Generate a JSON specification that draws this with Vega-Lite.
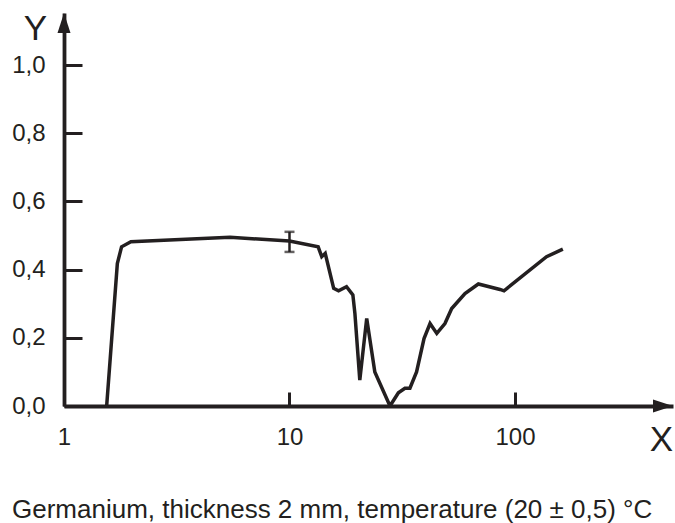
{
  "$schema": "https://vega.github.io/schema/vega-lite/v6.json",
  "width": 609,
  "height": 393,
  "autosize": {"type": "none"},
  "padding": {"left": 64, "top": 13, "right": 2, "bottom": 117},
  "background": "white",
  "config": {
    "view": {"stroke": null},
    "font": "Liberation Sans",
    "axis": {"grid": false, "domainColor": "#231f20", "tickColor": "#231f20", "labelColor": "#231f20", "titleColor": "#231f20", "labelFont": "Liberation Sans", "titleFont": "Liberation Sans", "titleFontWeight": "normal"}
  },
  "title": {
    "text": "Germanium, thickness 2 mm, temperature (20 ± 0,5) °C",
    "orient": "bottom",
    "anchor": "start",
    "frame": "group",
    "dx": -52,
    "offset": 40,
    "fontSize": 26,
    "fontWeight": "normal",
    "font": "Liberation Sans",
    "color": "#231f20"
  },
  "datasets": {
    "curve": [
      {"x": 1.546, "y": 0},
      {"x": 1.724, "y": 0.418},
      {"x": 1.80, "y": 0.467},
      {"x": 1.98, "y": 0.482},
      {"x": 5.45, "y": 0.495},
      {"x": 10.0, "y": 0.484},
      {"x": 13.4, "y": 0.467},
      {"x": 13.9, "y": 0.438},
      {"x": 14.4, "y": 0.448},
      {"x": 15.7, "y": 0.345},
      {"x": 16.5, "y": 0.338},
      {"x": 17.9, "y": 0.35},
      {"x": 19.1, "y": 0.326},
      {"x": 19.5, "y": 0.272},
      {"x": 20.5, "y": 0.076},
      {"x": 22.0, "y": 0.257},
      {"x": 23.9, "y": 0.1},
      {"x": 27.9, "y": 0.0},
      {"x": 30.4, "y": 0.039},
      {"x": 32.5, "y": 0.052},
      {"x": 34.2, "y": 0.052},
      {"x": 36.6, "y": 0.1},
      {"x": 39.5, "y": 0.198},
      {"x": 42.0, "y": 0.242},
      {"x": 45.0, "y": 0.213},
      {"x": 48.9, "y": 0.242},
      {"x": 52.4, "y": 0.286},
      {"x": 60.0, "y": 0.33},
      {"x": 68.8, "y": 0.358},
      {"x": 85.8, "y": 0.342},
      {"x": 89.4, "y": 0.338},
      {"x": 138, "y": 0.438},
      {"x": 163, "y": 0.46}
    ],
    "err": [{"x": 10, "lo": 0.452, "hi": 0.511}],
    "yarrow": [{"x": 1, "y": 1.153}],
    "xarrow": [{"x": 502, "y": 0}]
  },
  "layer": [
    {
      "data": {"name": "curve"},
      "mark": {"type": "line", "color": "#231f20", "strokeWidth": 3.5, "strokeJoin": "miter", "clip": true},
      "encoding": {
        "x": {
          "field": "x", "type": "quantitative",
          "title": "X",
          "scale": {"type": "log", "domain": [1, 502], "nice": false},
          "axis": {
            "values": [1, 10, 100],
            "title": "X",
            "titleFontSize": 35,
            "titleX": 597,
            "titleY": 44,
            "titleAlign": "center",
            "titleBaseline": "alphabetic",
            "titleAnchor": null,
            "labelFontSize": 24,
            "labelPadding": 33,
            "tickSize": -14,
            "tickWidth": 3,
            "domainWidth": 3.8,
            "labelExpr": "format(datum.value, 'd')",
            "labelFlush": false,
            "labelOverlap": false
          }
        },
        "y": {
          "field": "y", "type": "quantitative",
          "title": "Y",
          "scale": {"domain": [0, 1.153], "nice": false, "zero": true},
          "axis": {
            "values": [0, 0.2, 0.4, 0.6, 0.8, 1.0],
            "title": "Y",
            "titleFontSize": 35,
            "titleAngle": 0,
            "titleX": -29,
            "titleY": 26,
            "titleAlign": "center",
            "titleBaseline": "alphabetic",
            "titleAnchor": null,
            "labelFontSize": 24,
            "labelPadding": 37,
            "tickSize": -18,
            "tickWidth": 3,
            "domainWidth": 3.8,
            "labelExpr": "replace(format(datum.value, '.1f'), '.', ',')",
            "labelFlush": false,
            "labelOverlap": false
          }
        }
      }
    },
    {
      "data": {"name": "err"},
      "mark": {"type": "errorbar", "ticks": {"size": 10, "thickness": 2.5}, "thickness": 2.5, "color": "#231f20"},
      "encoding": {
        "x": {"field": "x", "type": "quantitative", "title": "X"},
        "y": {"field": "lo", "type": "quantitative", "title": "Y"},
        "y2": {"field": "hi"}
      }
    },
    {
      "data": {"name": "yarrow"},
      "mark": {"type": "point", "shape": "M -0.65 2 L 0 0 L 0.65 2 Z", "size": 400, "filled": true, "color": "#231f20", "opacity": 1},
      "encoding": {
        "x": {"field": "x", "type": "quantitative", "title": "X"},
        "y": {"field": "y", "type": "quantitative", "title": "Y"}
      }
    },
    {
      "data": {"name": "xarrow"},
      "mark": {"type": "point", "shape": "M -2 -0.65 L 0 0 L -2 0.65 Z", "size": 400, "filled": true, "color": "#231f20", "opacity": 1},
      "encoding": {
        "x": {"field": "x", "type": "quantitative", "title": "X"},
        "y": {"field": "y", "type": "quantitative", "title": "Y"}
      }
    }
  ]
}
